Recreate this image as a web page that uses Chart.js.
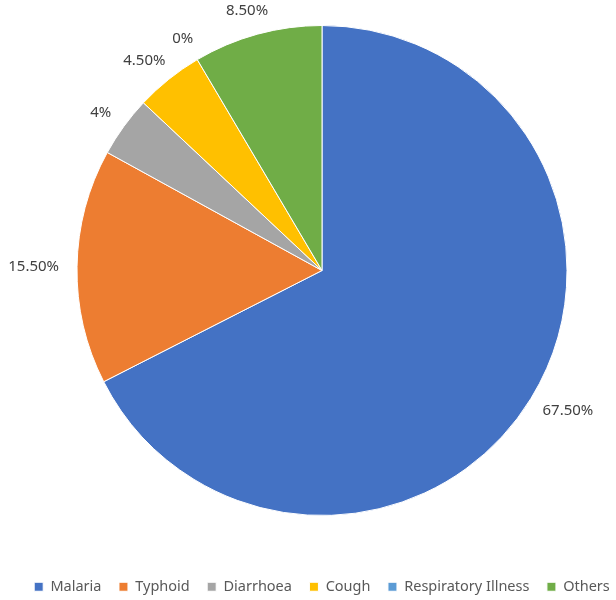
<!DOCTYPE html>
<html>
<head>
<meta charset="utf-8">
<style>
	html, body { margin: 0; padding: 0; background: #fff; overflow: hidden; }
	#wrap { width: 616px; height: 600px; position: relative; overflow: hidden; }
	#inner { position: absolute; left: 0; top: -21px; width: 644px; height: 625px; }
</style>
<script src="https://cdn.jsdelivr.net/npm/chart.js@4/dist/chart.umd.min.js"></script>
</head>
<body>
<div id="wrap"><div id="inner"><canvas id="pie"></canvas></div></div>
<script type="text/javascript">
	var categories = ['Malaria', 'Typhoid', 'Diarrhoea', 'Cough', 'Respiratory Illness', 'Others'];
	var values = [67.5, 15.5, 4, 4.5, 0, 8.5];
	var valueLabels = ['67.50%', '15.50%', '4%', '4.50%', '0%', '8.50%'];
	var colors = ['#4472C4', '#ED7D31', '#A5A5A5', '#FFC000', '#5B9BD5', '#70AD47'];

	// labels outside the slices, like excel "outside end"
	var outsideLabels = {
		id: 'outsideLabels',
		afterDatasetsDraw: function(chart) {
			var ctx = chart.ctx;
			var arcs = chart.getDatasetMeta(0).data;
			ctx.save();
			ctx.font = '15px "Noto Sans"';
			ctx.fillStyle = '#404040';
			ctx.textAlign = 'center';
			ctx.textBaseline = 'middle';
			arcs.forEach(function(arc, i) {
				var mid = (arc.startAngle + arc.endAngle) / 2;
				var r = arc.outerRadius + 18;
				var c = Math.cos(mid), s = Math.sin(mid);
				var w = ctx.measureText(valueLabels[i]).width;
				var x = arc.x + c * r + c * w / 2;
				var y = arc.y + s * r + s * 6;
				ctx.fillText(valueLabels[i], x, y);
			});
			ctx.restore();
		}
	};

	var myChart = new Chart(document.getElementById('pie'), {
		type: 'pie',
		data: {
			labels: categories,
			datasets: [{
				data: values,
				backgroundColor: colors,
				borderColor: '#ffffff',
				borderWidth: 1,
				radius: 245
			}]
		},
		options: {
			responsive: true,
			maintainAspectRatio: false,
			animation: false,
			plugins: {
				tooltip: { enabled: false },
				legend: {
					position: 'bottom',
					labels: {
						boxWidth: 9,
						boxHeight: 9,
						padding: 17.5,
						color: '#595959',
						font: { family: '"Noto Sans"', size: 14.5 }
					}
				}
			}
		},
		plugins: [outsideLabels]
	});
</script>
</body>
</html>
